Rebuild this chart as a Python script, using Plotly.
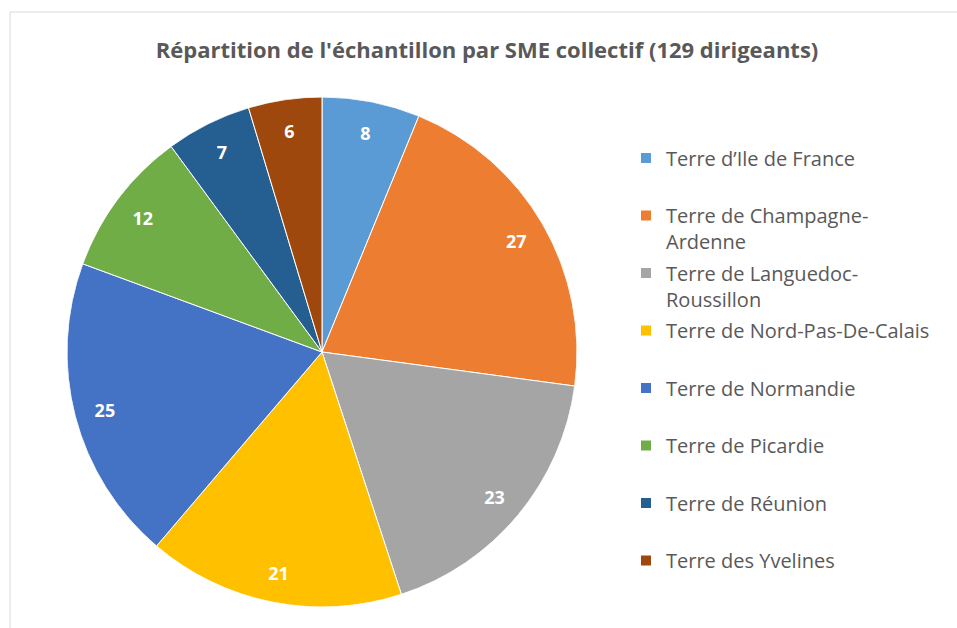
import plotly.graph_objects as go

title = "Répartition de l'échantillon par SME collectif (129 dirigeants)"
labels = ["Terre d’Ile de France", "Terre de Champagne-<br>Ardenne", "Terre de Languedoc-<br>Roussillon",
          "Terre de Nord-Pas-De-Calais", "Terre de Normandie", "Terre de Picardie",
          "Terre de Réunion", "Terre des Yvelines"]
values = [8, 27, 23, 21, 25, 12, 7, 6]
colors = ["#5B9BD5", "#ED7D31", "#A5A5A5", "#FFC000", "#4472C4", "#70AD47", "#255E91", "#9E480E"]

W, H = 957, 628
cx, cy, R = 322, 352, 255
dom = dict(x=[(cx - R) / W, (cx + R) / W], y=[(H - cy - R) / H, (H - cy + R) / H])
# label layer: same size, nudged down a few pixels so text sits centred like the original
dom_txt = dict(x=dom["x"], y=[dom["y"][0] - 3.5 / H, dom["y"][1] - 3.5 / H])

# pie wedges as polar bars: angular width proportional to value
total = sum(values)
mids, widths, acc = [], [], 0
for v in values:
    mids.append((acc + v / 2) / total * 360)
    widths.append(v / total * 360)
    acc += v

fig = go.Figure()
fig.add_trace(go.Barpolar(
    r=[1] * len(values), theta=mids, width=widths, base=0,
    marker=dict(color=colors, line=dict(color="white", width=1)),
    customdata=[l.replace("<br>", "") for l in labels], text=[str(v) for v in values],
    hovertemplate="%{customdata}: %{text}<extra></extra>", showlegend=False,
))
fig.add_trace(go.Scatterpolar(
    r=[0.88] * len(values), theta=mids, mode="text", text=[str(v) for v in values],
    textfont=dict(family="Open Sans", size=18, color="white", weight="bold"),
    showlegend=False, hoverinfo="skip", subplot="polar2",
))

for i, (lab, col) in enumerate(zip(labels, colors)):
    txt = lab if "<br>" in lab else lab + "<br> "
    fig.add_trace(go.Scatter(
        x=[None], y=[None], mode="markers", name=txt, legendgroup=str(i),
        marker=dict(symbol="square", size=10, color=col), showlegend=True, hoverinfo="skip",
    ))

polar_common = dict(bgcolor="rgba(0,0,0,0)", hole=0, bargap=0,
                    radialaxis=dict(visible=False, range=[0, 1], showgrid=False),
                    angularaxis=dict(visible=False, rotation=90, direction="clockwise", showgrid=False))

fig.update_layout(
    width=W, height=H, margin=dict(l=0, r=0, t=0, b=0),
    paper_bgcolor="white", plot_bgcolor="white",
    title=dict(text="<b>" + title + "</b>", x=487 / W, xanchor="center", y=1 - 50 / H, yanchor="middle",
               font=dict(family="Open Sans", size=22, color="#595959")),
    xaxis=dict(visible=False), yaxis=dict(visible=False),
    polar=dict(domain=dom, **polar_common),
    polar2=dict(domain=dom_txt, **polar_common),
    legend=dict(x=626 / W, xanchor="left", y=1 - 138.5 / H, yanchor="top",
                font=dict(family="Open Sans", size=20, color="#595959"),
                traceorder="grouped", tracegroupgap=2.5, valign="top",
                bgcolor="rgba(0,0,0,0)"),
    shapes=[dict(type="rect", xref="paper", yref="paper", x0=10 / W, x1=1 + 5 / W, y0=-0.02, y1=1 - 12 / H,
                 line=dict(color="#D9D9D9", width=1), fillcolor="rgba(0,0,0,0)", layer="below")],
)

fig.write_html("out.html", post_script="document.body.style.margin='0px';",
               config={"displayModeBar": False})
